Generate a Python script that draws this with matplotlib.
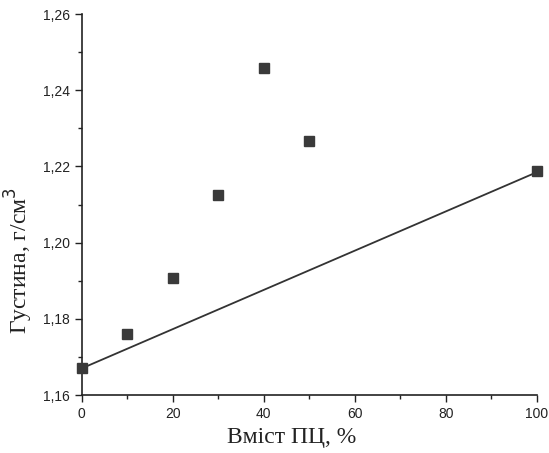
import matplotlib
matplotlib.use("Agg")
import matplotlib.pyplot as plt
from matplotlib.ticker import MultipleLocator, FuncFormatter

content = [0, 10, 20, 30, 40, 50, 100]
density = [1.167, 1.176, 1.1907, 1.2125, 1.2458, 1.2268, 1.2188]
line_x = [0, 100]
line_y = [1.167, 1.2185]

fig = plt.figure(figsize=(5.49, 4.53), dpi=100)
ax = fig.add_axes([0.149, 0.128, 0.829, 0.841])

ax.plot(line_x, line_y, color="#333333", lw=1.3, zorder=2)
ax.plot(content, density, linestyle="none", marker="s", markersize=7,
        color="#3a3a3a", zorder=3, clip_on=False)

ax.set_xlim(0, 100)
ax.set_ylim(1.16, 1.26)
for s in ["top", "right"]:
    ax.spines[s].set_visible(False)
for s in ["left", "bottom"]:
    ax.spines[s].set_color("#222222")
    ax.spines[s].set_linewidth(1.2)

ax.xaxis.set_major_locator(MultipleLocator(20))
ax.xaxis.set_minor_locator(MultipleLocator(10))
ax.yaxis.set_major_locator(MultipleLocator(0.02))
ax.yaxis.set_minor_locator(MultipleLocator(0.01))
ax.yaxis.set_major_formatter(FuncFormatter(lambda v, p: f"{v:.2f}".replace(".", ",")))
ax.tick_params(which="major", direction="out", length=5, width=1, color="#222222",
               labelsize=10, labelcolor="#222222")
ax.tick_params(which="minor", direction="out", length=3, width=1, color="#222222")
for lab in ax.get_xticklabels() + ax.get_yticklabels():
    lab.set_family("Liberation Sans")

ax.set_xlabel("Вміст ПЦ, %", family="Liberation Serif", fontsize=17, color="#222222")
ax.set_ylabel("Густина, г/см$^3$", family="Liberation Serif", fontsize=17, color="#222222")
ax.xaxis.set_label_coords(0.462, -0.083)
ax.yaxis.set_label_coords(-0.102, 0.352)

fig.savefig("out.png", dpi=100)
